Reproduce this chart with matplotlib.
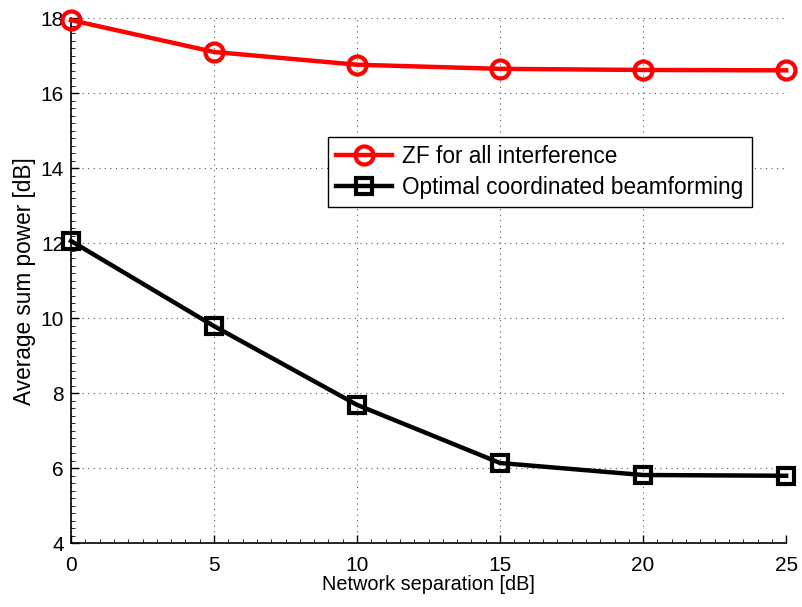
import numpy as np
import matplotlib
matplotlib.use("Agg")
import matplotlib.pyplot as plt
from matplotlib.ticker import MultipleLocator

# network separation (dB) and average sum power (dB) for each scheme
separation = [0, 5, 10, 15, 20, 25]
zf_power = [17.95, 17.10, 16.76, 16.65, 16.62, 16.61]
opt_power = [12.06, 9.79, 7.69, 6.14, 5.82, 5.80]

plt.rcParams['font.family'] = ['Liberation Sans', 'DejaVu Sans']
plt.rcParams['font.size'] = 15

fig = plt.figure(figsize=(8.03, 6.07), dpi=100)
ax = fig.add_axes([0.0884, 0.105, 0.8906, 0.865])

ax.plot(separation, zf_power, color='red', lw=3.2, marker='o', ms=13,
        mfc='none', mew=3, label='ZF for all interference', clip_on=False, zorder=3)
ax.plot(separation, opt_power, color='black', lw=3.2, marker='s', ms=11,
        mfc='none', mew=3, label='Optimal coordinated beamforming', clip_on=False, zorder=3)

ax.set_xlim(0, 25)
ax.set_ylim(4, 18)
ax.xaxis.set_major_locator(MultipleLocator(5))
ax.yaxis.set_major_locator(MultipleLocator(2))
ax.xaxis.set_minor_locator(MultipleLocator(0.5))
ax.yaxis.set_minor_locator(MultipleLocator(0.2))
ax.tick_params(which='major', direction='in', length=6, width=1, labelsize=15)
ax.tick_params(which='minor', direction='in', length=3, width=0.6)
ax.tick_params(axis='x', which='major', pad=9)
ax.tick_params(axis='y', which='major', pad=5)
ax.grid(True, which='major', linestyle=(0, (1, 4)), color='#555555', lw=0.8)

ax.spines['top'].set_visible(False)
ax.spines['right'].set_visible(False)
ax.spines['left'].set_linewidth(1.2)
ax.spines['bottom'].set_linewidth(1.2)

ax.set_xlabel('Network separation [dB]', fontsize=14.3, labelpad=0)
ax.set_ylabel('Average sum power [dB]', fontsize=16.3, labelpad=3)

leg = ax.legend(loc='upper left', bbox_to_anchor=(0.359, 0.774), fancybox=False,
                edgecolor='black', framealpha=1, borderpad=0.35, labelspacing=0.35,
                handlelength=2.5, handletextpad=0.45, borderaxespad=0,
                prop={'size': 16.3})
leg.get_frame().set_linewidth(1.0)

fig.savefig('out.png', dpi=100)
